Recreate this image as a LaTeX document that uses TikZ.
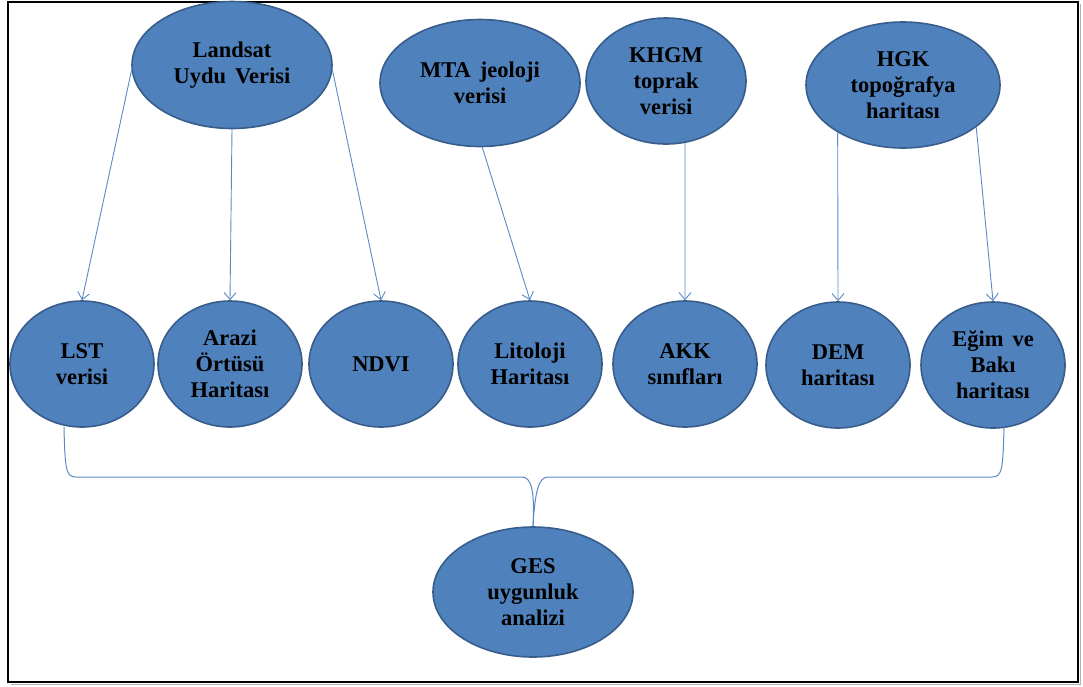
\documentclass[tikz,border=0pt]{standalone}
\usepackage{fontspec}
\setmainfont{Liberation Serif}
\usetikzlibrary{shapes.geometric,arrows.meta}
\definecolor{efill}{HTML}{4F81BD}
\definecolor{edraw}{HTML}{385D8A}
\definecolor{lblue}{HTML}{5A8AC6}
\tikzset{
  ell/.style={ellipse, draw=edraw, line width=1.6pt, fill=efill, inner sep=0pt, align=center,
    font=\fontsize{22.5}{26}\selectfont\bfseries, text=black},
  top/.style={ell, minimum width=200pt, minimum height=127pt},
  bot/.style={ell, minimum width=144pt, minimum height=126pt},
  arr/.style={draw=lblue, line width=0.9pt, -{Straight Barb[length=7pt,width=12pt]}},
  bracel/.style={draw=lblue, line width=1pt}
}
\begin{document}
\begin{tikzpicture}[x=1pt,y=-1pt]
\useasboundingbox (0,0) rectangle (1083,686);
% frame
\draw[gray!60, line width=1.5pt] (11,684.5) -- (1080.5,684.5) -- (1080.5,4);
\draw[black, line width=2pt] (8,1.5) rectangle (1078,682);
% top row
\node[top] (landsat) at (232,65) {Landsat\\Uydu\hspace{0.4em}Verisi};
\node[top] (mta) at (480,83) {MTA\hspace{0.4em}jeoloji\\verisi};
\node[top, minimum width=160pt, minimum height=126pt] (khgm) at (666,81) {KHGM\\toprak\\verisi};
\node[top, minimum width=194pt, minimum height=126pt] (hgk) at (903,85) {HGK\\topoğrafya\\haritası};
% bottom row
\node[bot] (lst) at (82,364) {LST\\verisi};
\node[bot] (arazi) at (230,364) {Arazi\\Örtüsü\\Haritası};
\node[bot] (ndvi) at (381,364) {NDVI};
\node[bot] (lito) at (530,364) {Litoloji\\Haritası};
\node[bot] (akk) at (685,364) {AKK\\sınıfları};
\node[bot] (dem) at (838,365) {DEM\\haritası};
\node[bot] (egim) at (993,365) {Eğim\hspace{0.4em}ve\\Bakı\\haritası};
% result
\node[ell, minimum width=200pt, minimum height=130pt] (ges) at (533,592) {GES\\uygunluk\\analizi};
% arrows
\draw[arr] (landsat.183) -- (lst.north);
\draw[arr] (landsat.south) -- (arazi.north);
\draw[arr] (landsat.-3) -- (ndvi.north);
\draw[arr] (mta.-88) -- (lito.north);
\draw[arr] (khgm.-73) -- (akk.north);
\draw[arr] (hgk.-144) -- (dem.north);
\draw[arr] (hgk.-30) -- (egim.north);
% brace
\coordinate (bl) at (64,427);
\coordinate (br) at (1004,427);
\draw[bracel] (bl) .. controls (65,470) and (66,477) .. (76,477) -- (522,477)
  .. controls (531,477) and (535,490) .. (ges.north);
\draw[bracel] (br) .. controls (1003,470) and (1002,477) .. (992,477) -- (548,477)
  .. controls (539,477) and (535,490) .. (ges.north);
\end{tikzpicture}
\end{document}
